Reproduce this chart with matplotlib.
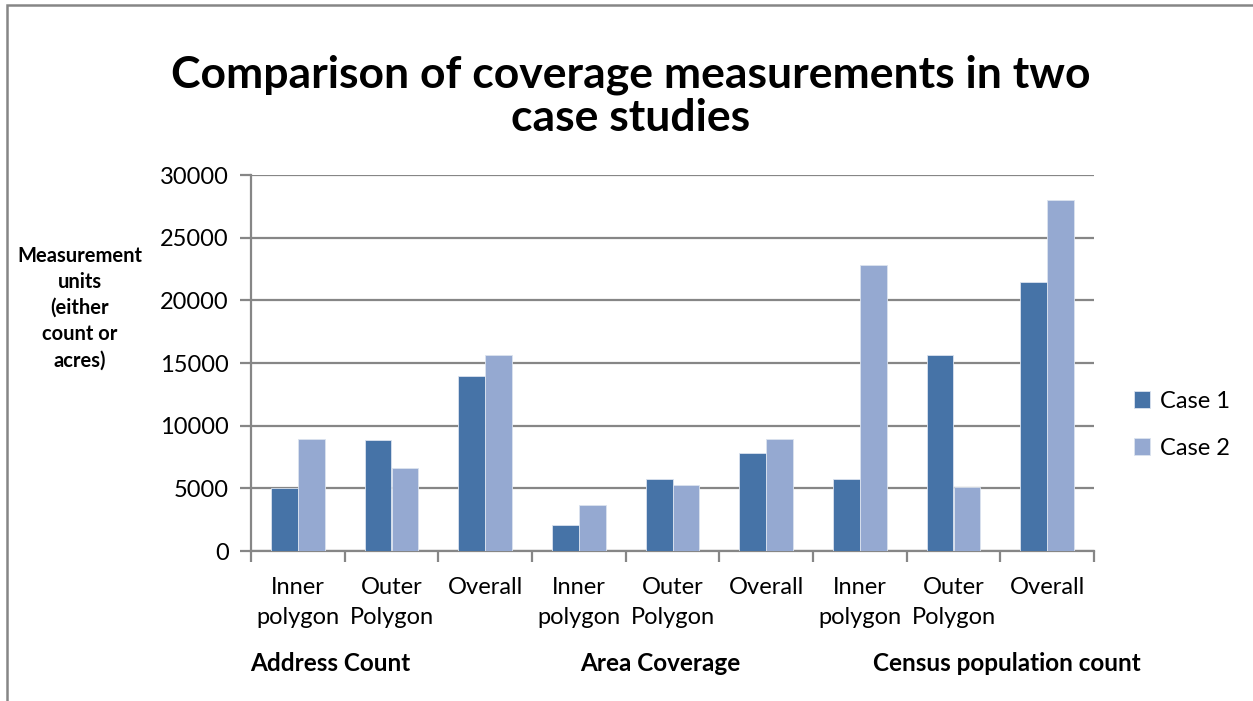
import numpy as np
import matplotlib.pyplot as plt
from matplotlib.patches import Rectangle

plt.rcParams['font.family'] = ['Lato', 'DejaVu Sans']

categories = ['Inner\npolygon', 'Outer\nPolygon', 'Overall',
              'Inner\npolygon', 'Outer\nPolygon', 'Overall',
              'Inner\npolygon', 'Outer\nPolygon', 'Overall']
groups = ['Address Count', 'Area Coverage', 'Census population count']
case1 = [5000, 8850, 13950, 2050, 5720, 7800, 5730, 15650, 21450]
case2 = [8950, 6600, 15600, 3650, 5250, 8950, 22830, 5080, 27970]
series_names = ['Case 1', 'Case 2']

c1 = '#4673A7'
c2 = '#95A9D1'
grid_c = '#868686'

fig = plt.figure(figsize=(12.53, 7.01), dpi=100)
ax = fig.add_axes([251/1253, 1-551/701, (1094-251)/1253, 376/701])

x = np.arange(len(categories))
w = 0.285
ax.bar(x - w/2, case1, w, color=c1, edgecolor='#dbe3ef', linewidth=0.6, label=series_names[0], zorder=3)
ax.bar(x + w/2, case2, w, color=c2, edgecolor='#dbe3ef', linewidth=0.6, label=series_names[1], zorder=3)

ax.set_xlim(-0.5, len(categories) - 0.5)
ax.set_ylim(0, 30000)
ax.set_yticks(np.arange(0, 30001, 5000))
ax.yaxis.grid(True, color=grid_c, linewidth=1.6, zorder=0)
ax.tick_params(axis='y', length=8, width=1.6, color=grid_c, labelsize=17, pad=8)

ax.set_xticks(x)
ax.set_xticklabels(categories, fontsize=17, linespacing=1.52, va='top')
ax.tick_params(axis='x', which='major', length=0, pad=19)
ax.set_xticks(np.arange(-0.5, len(categories), 1), minor=True)
ax.tick_params(axis='x', which='minor', length=8, width=1.6, color=grid_c)

for s in ['top', 'right']:
    ax.spines[s].set_visible(False)
for s in ['left', 'bottom']:
    ax.spines[s].set_color(grid_c)
    ax.spines[s].set_linewidth(1.6)

# group labels under the categories
group_x = [-0.51, 3.01, 6.14]
for gx, g in zip(group_x, groups):
    ax.text(gx, -0.298, g, transform=ax.get_xaxis_transform(), ha='left', va='center',
            fontsize=17.5, fontweight='bold')

fig.text(0.503, 1-75/701, 'Comparison of coverage measurements in two', ha='center', va='center',
         fontsize=32, fontweight='bold')
fig.text(0.503, 1-118/701, 'case studies', ha='center', va='center',
         fontsize=32, fontweight='bold')

fig.text(80/1253, 1-308/701, 'Measurement\nunits\n(either\ncount or\nacres)', ha='center', va='center',
         fontsize=14.5, fontweight='bold', linespacing=1.39)

ax.legend(loc='center left', bbox_to_anchor=(1122/1253, 1-425/701), bbox_transform=fig.transFigure,
          frameon=False, fontsize=17, handlelength=0.7, handleheight=0.7, handletextpad=0.4,
          labelspacing=1.1, borderpad=0)

# chart border
fig.patches.append(Rectangle((7/1253, -0.05), 1.1, 1-5/701+0.05, transform=fig.transFigure,
                             fill=False, edgecolor=grid_c, linewidth=1.8))

fig.savefig('out.png', dpi=100)
